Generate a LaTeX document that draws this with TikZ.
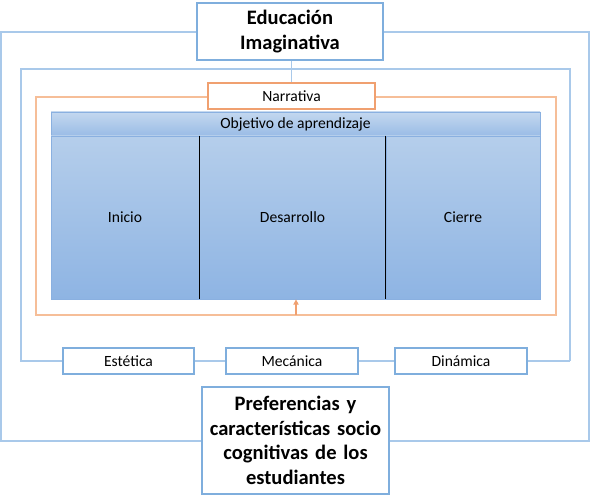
\documentclass[tikz,border=0pt]{standalone}
\usepackage{fontspec}
\setmainfont{Carlito}
\usetikzlibrary{arrows.meta}
\definecolor{lblue}{HTML}{A9C9EA}
\definecolor{bblue}{HTML}{7FAEDD}
\definecolor{lorange}{HTML}{F6BE98}
\definecolor{borange}{HTML}{F0A070}
\definecolor{tabtop}{HTML}{B5CEEB}
\definecolor{tabbot}{HTML}{8EB4E3}
\definecolor{tabline}{HTML}{8AB0E0}
\tikzset{
  bluebox/.style={draw=bblue, line width=0.9pt, fill=white, inner sep=0pt, align=center},
  orangebox/.style={draw=borange, line width=0.9pt, fill=white, inner sep=0pt, align=center},
  blueline/.style={draw=lblue, line width=0.9pt},
  orangeline/.style={draw=lorange, line width=0.9pt},
  cell/.style={draw=tabline, line width=0.6pt, top color=tabtop, bottom color=tabbot, inner sep=0pt, font=\fontsize{11.7}{14}\selectfont},
  big/.style={font=\bfseries\fontsize{15.4}{18.5}\selectfont},
  small/.style={font=\fontsize{11.7}{14}\selectfont}
}
\begin{document}
\begin{tikzpicture}[x=0.75pt,y=-0.75pt]
\useasboundingbox (0,0) rectangle (590,503);
% outer frame
\node[bluebox, big, minimum width=186*0.75pt, minimum height=57*0.75pt] (edu) at (290,31.5) {Educación\\Imaginativa};
\node[bluebox, big, minimum width=187*0.75pt, minimum height=107*0.75pt, text width=185*0.75pt] (pref) at (295.5,440.5) {Preferencias y\\características socio\\cognitivas de los\\estudiantes};
\coordinate (o1) at (1,32); \coordinate (o2) at (1,441);
\coordinate (o3) at (589,32); \coordinate (o4) at (589,441);
\draw[blueline] (edu.west |- o1) -- (o1) -- (o2) -- (pref.west |- o2);
\draw[blueline] (edu.east |- o3) -- (o3) -- (o4) -- (pref.east |- o4);
% second frame
\node[orangebox, small, minimum width=167*0.75pt, minimum height=26*0.75pt] (nar) at (291.5,96) {Narrativa};
\node[bluebox, small, minimum width=131*0.75pt, minimum height=26*0.75pt] (est) at (128.5,361) {Estética};
\node[bluebox, small, minimum width=132*0.75pt, minimum height=26*0.75pt] (mec) at (292,361) {Mecánica};
\node[bluebox, small, minimum width=132*0.75pt, minimum height=26*0.75pt] (din) at (461,361) {Dinámica};
\coordinate (s1) at (21,69); \coordinate (s2) at (21,361);
\coordinate (s3) at (570,69); \coordinate (s4) at (570,361);
\coordinate (sm) at (291.5,69);
\draw[blueline] (edu.south -| sm) -- (sm) -- (nar.north);
\draw[blueline] (s4) -- (s3) -- (s1) -- (s2) -- (est.west);
\draw[blueline] (est.east) -- (mec.west);
\draw[blueline] (mec.east) -- (din.west);
\draw[blueline] (din.east) -- (s4);
% table
\node[cell, minimum width=489*0.75pt, minimum height=24*0.75pt, top color=tabtop!80!white, bottom color=tabbot!90!white] (obj) at (295.5,124) {Objetivo de aprendizaje};
\node[cell, minimum width=148*0.75pt, minimum height=163*0.75pt] (ini) at (125,217.5) {Inicio};
\node[cell, minimum width=187*0.75pt, minimum height=163*0.75pt] (des) at (292.5,217.5) {Desarrollo};
\node[cell, minimum width=154*0.75pt, minimum height=163*0.75pt] (cie) at (463,217.5) {Cierre};
\draw[black, line width=1.1pt] (ini.north east) -- (ini.south east);
\draw[black, line width=1.1pt] (cie.north west) -- (cie.south west);
% orange frame
\coordinate (r1) at (36,97); \coordinate (r2) at (36,315);
\coordinate (r3) at (556,97); \coordinate (r4) at (556,315);
\coordinate (ra) at (296,315);
\draw[orangeline] (nar.west |- r1) -- (r1) -- (r2) -- (r4) -- (r3) -- (nar.east |- r3);
\draw[orangeline, -{Triangle[length=4pt,width=4pt]}, draw=borange] (ra) -- (ra |- des.south);
\end{tikzpicture}
\end{document}
